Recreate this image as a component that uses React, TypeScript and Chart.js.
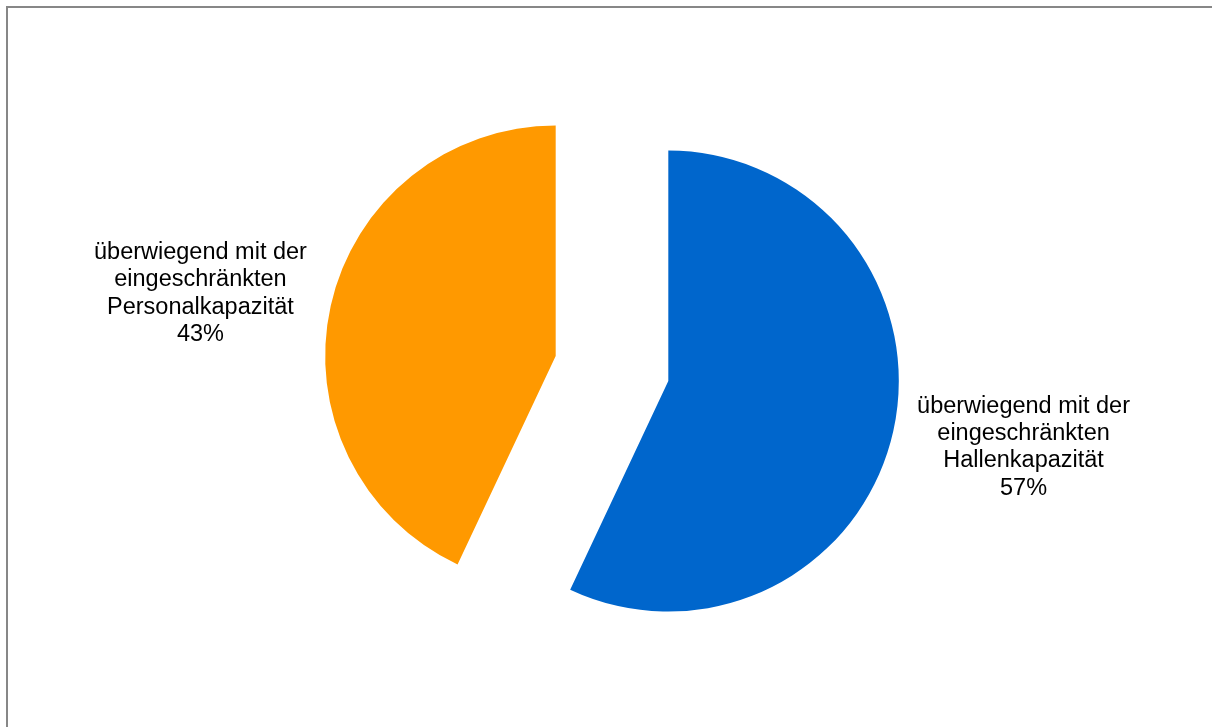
import React, { useEffect, useRef } from "react";
import { Chart, registerables } from "chart.js";

Chart.register(...registerables);

const categories: string[][] = [
  ["überwiegend mit der", "eingeschränkten", "Hallenkapazität"],
  ["überwiegend mit der", "eingeschränkten", "Personalkapazität"],
];
const values: number[] = [57, 43];
const colors: string[] = ["#0066CC", "#FF9900"];
const explode: number[] = [57.7, 57.7];

const explodePlugin = {
  id: "explodeSlices",
  beforeDatasetDraw(chart: any, args: any) {
    const ctx = chart.ctx as CanvasRenderingContext2D;
    const meta = args.meta;
    meta.data.forEach((arc: any, i: number) => {
      const p = arc.getProps(["startAngle", "endAngle"], true);
      const half = (p.startAngle + p.endAngle) / 2;
      ctx.save();
      ctx.translate(Math.cos(half) * explode[i], Math.sin(half) * explode[i]);
      arc.draw(ctx, chart.chartArea);
      ctx.restore();
    });
    return false;
  },
  afterDatasetsDraw(chart: any) {
    const ctx = chart.ctx as CanvasRenderingContext2D;
    const meta = chart.getDatasetMeta(0);
    const total = values.reduce((a, b) => a + b, 0);
    ctx.save();
    ctx.font = '23.5px "Liberation Sans", Arial, sans-serif';
    ctx.fillStyle = "#000000";
    ctx.textAlign = "center";
    ctx.textBaseline = "alphabetic";
    const lineH = 27.3;
    meta.data.forEach((arc: any, i: number) => {
      const p = arc.getProps(["x", "y", "startAngle", "endAngle"], true);
      const half = (p.startAngle + p.endAngle) / 2;
      const vx = p.x + Math.cos(half) * explode[i];
      const vy = p.y + Math.sin(half) * explode[i];
      const cx = vx + Math.cos(half) * 364;
      const cy = vy + Math.sin(half) * 295;
      const lines = [...categories[i], Math.round((values[i] / total) * 100) + "%"];
      const n = lines.length;
      lines.forEach((ln, k) => {
        const by = cy + (k - (n - 1) / 2) * lineH + 8.4;
        ctx.fillText(ln, cx, by);
      });
    });
    ctx.restore();
  },
};

export default function App() {
  const ref = useRef<HTMLCanvasElement | null>(null);
  useEffect(() => {
    if (!ref.current) return;
    const chart = new Chart(ref.current, {
      type: "pie",
      data: {
        labels: categories.map((c) => c.join(" ")),
        datasets: [
          {
            data: values,
            backgroundColor: colors,
            borderWidth: 0,
            hoverOffset: 0,
            radius: 230.5,
          } as any,
        ],
      },
      options: {
        responsive: false,
        animation: false,
        events: [],
        layout: { padding: 0 },
        plugins: {
          legend: { display: false },
          tooltip: { enabled: false },
        },
      },
      plugins: [explodePlugin],
    });
    return () => chart.destroy();
  }, []);
  return (
    <div
      style={{
        position: "fixed",
        left: 0,
        top: 0,
        right: 0,
        bottom: 0,
        overflow: "hidden",
        background: "#ffffff",
      }}
    >
      <div
        style={{
          position: "absolute",
          left: 6,
          top: 6,
          width: 1300,
          height: 800,
          borderTop: "2px solid #878787",
          borderLeft: "2px solid #878787",
          boxSizing: "border-box",
        }}
      />
      <canvas
        ref={ref}
        width={1224}
        height={737}
        style={{ position: "absolute", left: 0, top: 0, width: 1224, height: 737 }}
      />
    </div>
  );
}
